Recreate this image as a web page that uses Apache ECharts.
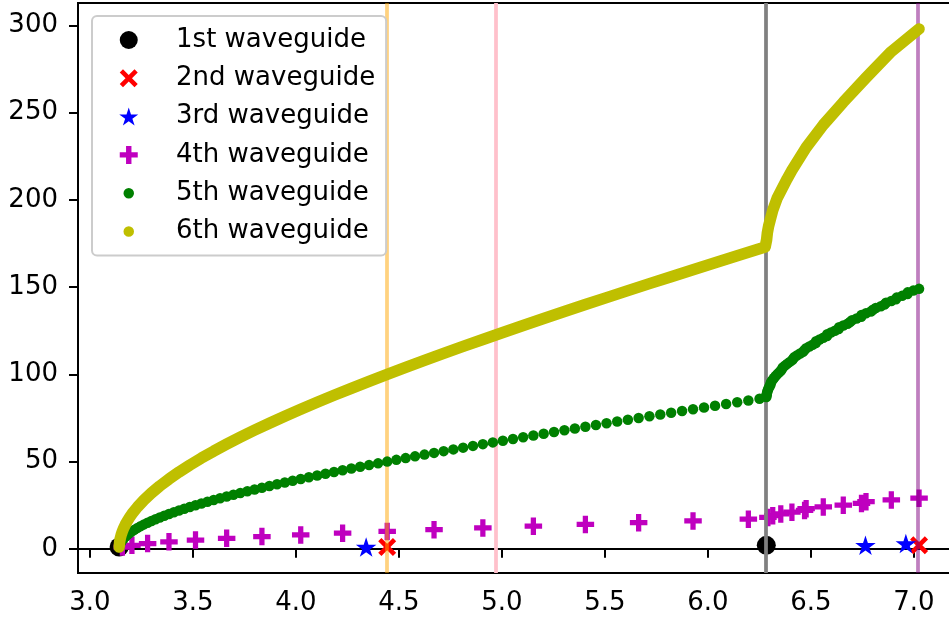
<!DOCTYPE html>
<html>
<head>
<meta charset="utf-8">
<script src="https://cdn.jsdelivr.net/npm/echarts@6/dist/echarts.min.js"></script>
<style>
  html, body { margin: 0; padding: 0; background: #ffffff; }
  #chart { width: 949px; height: 622px; }
</style>
</head>
<body>
<div id="chart"></div>
<script>
// Legend labels, one per waveguide
const seriesNames = ['1st waveguide', '2nd waveguide', '3rd waveguide',
                     '4th waveguide', '5th waveguide', '6th waveguide'];

// Tick values of both axes
const xTicks = [3.0, 3.5, 4.0, 4.5, 5.0, 5.5, 6.0, 6.5, 7.0];
const yTicks = [0, 50, 100, 150, 200, 250, 300];

// Cut-off wavenumbers (x) against mode count (y)
const wg1X = [3.1416, 6.2832];
const wg1Y = [1, 2];

const wg2X = [4.4429, 7.0248];
const wg2Y = [1, 2];

const wg3X = [4.3407, 6.7646, 6.9607];
const wg3Y = [1, 2, 3];

const wg4X = [3.1573, 3.2038, 3.2799, 3.3836, 3.5124, 3.6636, 3.8348, 4.0232, 4.2265, 4.4429,
              4.6703, 4.9073, 5.1525, 5.4050, 5.6635, 5.9275, 6.1961, 6.2910, 6.3145, 6.3535,
              6.4076, 6.4689, 6.4766, 6.5598, 6.6569, 6.7452, 6.7672, 6.8901, 7.0248];
const wg4Y = [1, 2, 3, 4, 5, 6, 7, 8, 9, 10, 11, 12, 13, 14, 15, 16, 17, 18, 19, 20,
              21, 22, 23, 24, 25, 26, 27, 28, 29];

const wg5X = [3.1422, 3.1441, 3.1472, 3.1516, 3.1573, 3.1641, 3.1722, 3.1816, 3.1921, 3.2038,
              3.2167, 3.2308, 3.2461, 3.2624, 3.2799, 3.2985, 3.3182, 3.3390, 3.3608, 3.3836,
              3.4074, 3.4322, 3.4580, 3.4847, 3.5124, 3.5409, 3.5703, 3.6006, 3.6317, 3.6636,
              3.6964, 3.7299, 3.7641, 3.7991, 3.8348, 3.8711, 3.9082, 3.9459, 3.9842, 4.0232,
              4.0627, 4.1029, 4.1435, 4.1848, 4.2265, 4.2688, 4.3116, 4.3549, 4.3986, 4.4429,
              4.4875, 4.5326, 4.5781, 4.6240, 4.6703, 4.7170, 4.7640, 4.8114, 4.8592, 4.9073,
              4.9557, 5.0045, 5.0535, 5.1029, 5.1525, 5.2025, 5.2527, 5.3032, 5.3539, 5.4050,
              5.4562, 5.5077, 5.5594, 5.6113, 5.6635, 5.7159, 5.7685, 5.8213, 5.8743, 5.9275,
              5.9809, 6.0344, 6.0881, 6.1420, 6.1961, 6.2504,
              6.2835, 6.2845, 6.2860, 6.2882, 6.2910, 6.2945, 6.2986, 6.3033, 6.3048, 6.3086,
              6.3145, 6.3211, 6.3282, 6.3360, 6.3444, 6.3535, 6.3593, 6.3631, 6.3734, 6.3841,
              6.3956, 6.4076, 6.4140, 6.4202, 6.4334, 6.4472, 6.4616, 6.4689, 6.4766, 6.4921,
              6.5082, 6.5239, 6.5248, 6.5420, 6.5598, 6.5781, 6.5790, 6.5970, 6.6164, 6.6343,
              6.6364, 6.6569, 6.6779, 6.6897, 6.6995, 6.7215, 6.7441, 6.7452, 6.7672, 6.7908,
              6.8009, 6.8148, 6.8394, 6.8567, 6.8645, 6.8901, 6.9126, 6.9161, 6.9426, 6.9686,
              6.9695, 6.9969, 7.0248];
const wg5Y = [1, 2, 3, 4, 5, 6, 7, 8, 9, 10, 11, 12, 13, 14, 15, 16, 17, 18, 19, 20,
              21, 22, 23, 24, 25, 26, 27, 28, 29, 30, 31, 32, 33, 34, 35, 36, 37, 38, 39, 40,
              41, 42, 43, 44, 45, 46, 47, 48, 49, 50, 51, 52, 53, 54, 55, 56, 57, 58, 59, 60,
              61, 62, 63, 64, 65, 66, 67, 68, 69, 70, 71, 72, 73, 74, 75, 76, 77, 78, 79, 80,
              81, 82, 83, 84, 85, 86, 87, 88, 89, 90, 91, 92, 93, 94, 95, 96, 97, 98, 99, 100,
              101, 102, 103, 104, 105, 106, 107, 108, 109, 110, 111, 112, 113, 114, 115, 116, 117, 118, 119, 120,
              121, 122, 123, 124, 125, 126, 127, 128, 129, 130, 131, 132, 133, 134, 135, 136, 137, 138, 139, 140,
              141, 142, 143, 144, 145, 146, 147, 148, 149];

const wg6X = [3.1418, 3.1422, 3.1441, 3.1472, 3.1516, 3.1573, 3.1641, 3.1722, 3.1816, 3.1921,
              3.2038, 3.2308, 3.2624, 3.2985, 3.3390, 3.3836, 3.4322, 3.4847, 3.5409, 3.6006,
              3.6636, 3.7299, 3.7991, 3.8711, 3.9459, 4.0232, 4.1029, 4.1848, 4.2688, 4.3549,
              4.4429, 4.5326, 4.6240, 4.7170, 4.8114, 4.9073, 5.0045, 5.1029, 5.2025, 5.3032,
              5.4050, 5.5077, 5.6113, 5.7159, 5.8213, 5.9275, 6.0344, 6.1420, 6.2504, 6.2776,
              6.2835, 6.2845, 6.2882, 6.2945, 6.3033, 6.3145, 6.3360, 6.3535, 6.3841, 6.4076,
              6.4766, 6.5598, 6.6569, 6.7672, 6.8901, 7.0248];
const wg6Y = [1, 2, 4, 6, 8, 10, 12, 14, 16, 18,
              20, 24, 28, 32, 36, 40, 44, 48, 52, 56,
              60, 64, 68, 72, 76, 80, 84, 88, 92, 96,
              100, 104, 108, 112, 116, 120, 124, 128, 132, 136,
              140, 144, 148, 152, 156, 160, 164, 168, 172, 173,
              174, 177, 181, 185, 189, 194, 201, 205, 212, 217,
              230, 243, 256, 270, 285, 298];

// Vertical reference lines (x positions and colours)
const refLineX = [4.4429, 4.9673, 6.2832, 7.0248];
const refLineColor = ['rgba(255,165,0,0.5)', '#ffc0cb', '#808080', 'rgba(128,0,128,0.5)'];

// Marker shapes
const CROSS = 'path://M18,0L50,32L82,0L100,18L68,50L100,82L82,100L50,68L18,100L0,82L32,50L0,18Z';
const PLUS = 'path://M35,0H65V35H100V65H65V100H35V65H0V35H35Z';
const STAR = 'path://M50,0L61.23,34.55L97.55,34.55L68.16,55.9L79.39,90.45L50,69.1L20.61,90.45L31.84,55.9L2.45,34.55L38.77,34.55Z';

const FONT = 'DejaVu Sans';
const FONT_SIZE = 26;
const pairs = (xs, ys) => xs.map((x, i) => [x, ys[i]]);

const chart = echarts.init(document.getElementById('chart'), null, { renderer: 'canvas' });

chart.setOption({
  animation: false,
  backgroundColor: '#ffffff',
  grid: {
    left: 78, top: 3, right: -35, bottom: 49,
    outerBoundsMode: 'none', containLabel: false,
    show: true, borderColor: '#000', borderWidth: 2, backgroundColor: 'transparent'
  },
  xAxis: {
    type: 'value', min: 2.942, max: 7.34,
    axisLine: { lineStyle: { color: '#000', width: 2 } },
    axisTick: { show: true, length: 9, lineStyle: { color: '#000', width: 2 }, customValues: xTicks },
    axisLabel: {
      customValues: xTicks, margin: 17, color: '#000', fontFamily: FONT, fontSize: FONT_SIZE,
      formatter: v => v.toFixed(1)
    },
    splitLine: { show: false }
  },
  yAxis: {
    type: 'value', min: -13.85, max: 312.85,
    axisLine: { show: true, lineStyle: { color: '#000', width: 2 } },
    axisTick: { show: true, length: 9, lineStyle: { color: '#000', width: 2 }, customValues: yTicks },
    axisLabel: {
      customValues: yTicks, margin: 20, color: '#000', fontFamily: FONT, fontSize: FONT_SIZE,
      formatter: v => String(v)
    },
    splitLine: { show: false }
  },
  legend: {
    orient: 'vertical', left: 92, top: 16, z: 20,
    padding: [11, 11, 11, 24],
    itemWidth: 36.6, itemHeight: 18, itemGap: 12.3,
    backgroundColor: 'rgba(255,255,255,0.8)',
    borderColor: '#cccccc', borderWidth: 2, borderRadius: 5,
    selectedMode: false,
    textStyle: { color: '#000', fontFamily: FONT, fontSize: FONT_SIZE, lineHeight: 26, padding: [0, 0, 0, 24] },
    data: [
      { name: seriesNames[0], icon: 'circle' },
      { name: seriesNames[1], icon: CROSS },
      { name: seriesNames[2], icon: STAR },
      { name: seriesNames[3], icon: PLUS },
      { name: seriesNames[4], icon: 'circle', itemStyle: { borderColor: '#fff', borderWidth: 7.5 } },
      { name: seriesNames[5], icon: 'circle', itemStyle: { color: '#bfbf00', borderColor: '#fff', borderWidth: 7.5 } }
    ]
  },
  series: [
    {
      name: seriesNames[0], type: 'scatter', z: 1, symbol: 'circle', symbolSize: 19,
      itemStyle: { color: '#000000', opacity: 1 }, data: pairs(wg1X, wg1Y)
    },
    {
      name: seriesNames[1], type: 'scatter', z: 2, symbol: CROSS, symbolSize: 18,
      itemStyle: { color: '#ff0000', opacity: 1 }, data: pairs(wg2X, wg2Y)
    },
    {
      name: seriesNames[2], type: 'scatter', z: 3, symbol: STAR, symbolSize: [20.5, 19.5],
      itemStyle: { color: '#0000ff', opacity: 1 }, data: pairs(wg3X, wg3Y)
    },
    {
      name: seriesNames[3], type: 'scatter', z: 4, symbol: PLUS, symbolSize: 17.5,
      itemStyle: { color: '#bf00bf', opacity: 1 }, data: pairs(wg4X, wg4Y)
    },
    {
      name: seriesNames[4], type: 'scatter', z: 5, symbol: 'circle', symbolSize: 10.5,
      itemStyle: { color: '#008000', opacity: 1 }, data: pairs(wg5X, wg5Y)
    },
    {
      name: seriesNames[5], type: 'line', z: 6, symbol: 'none', smooth: false,
      itemStyle: { color: '#bfbf00' },
      lineStyle: { color: '#bfbf00', width: 11.5, cap: 'round', join: 'round' },
      data: pairs(wg6X, wg6Y)
    },
    {
      name: 'cutoff', type: 'line', z: 8, data: [], silent: true,
      markLine: {
        silent: true, symbol: 'none', animation: false,
        label: { show: false },
        data: refLineX.map((x, i) => ({ xAxis: x, lineStyle: { color: refLineColor[i], width: 3.75, type: 'solid' } }))
      }
    }
  ]
});
</script>
</body>
</html>
